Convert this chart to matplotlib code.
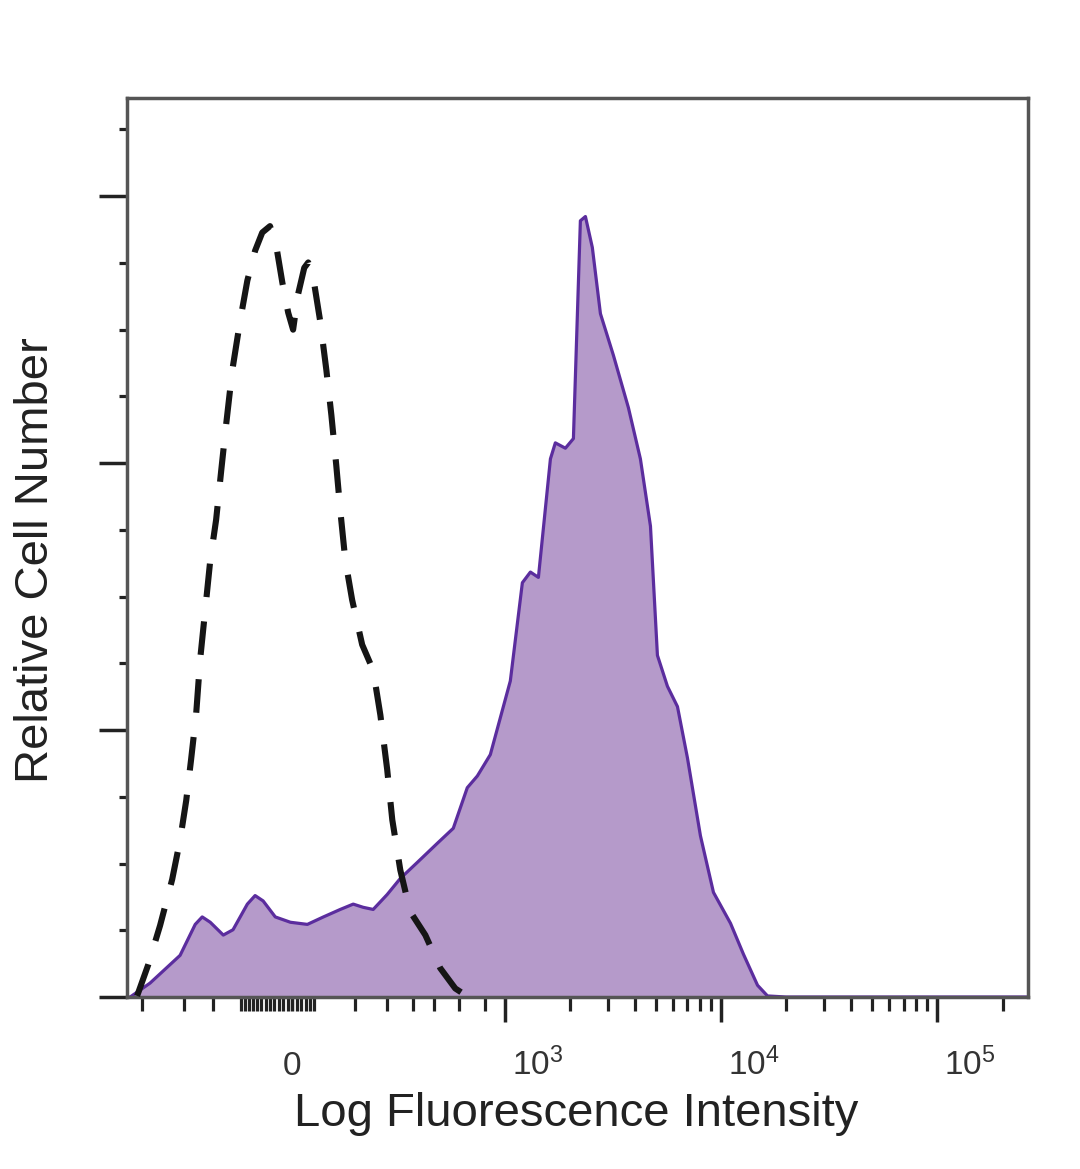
import matplotlib
matplotlib.use("Agg")
import matplotlib.pyplot as plt
from matplotlib.ticker import FixedLocator
from matplotlib.transforms import ScaledTranslation

# stained sample (filled purple histogram)
stain_x = [-590, -569, -453, -314, -257, -233, -207, -168, -141, -104, -85, -66,
           -38, -4, 34, 71, 112, 146, 174, 204, 250, 298, 369, 469, 563, 659,
           737, 850, 1057, 1204, 1313, 1431, 1628, 1716, 1911, 2082, 2243, 2367,
           2548, 2778, 3190, 3742, 4252, 4733, 5097, 5670, 6308, 7014, 8054,
           9250, 11090, 12730, 14780, 16430, 20000, 262144]
stain_y = [0, 0, 1.3, 3.9, 6.8, 7.5, 7.0, 5.8, 6.3, 8.7, 9.5, 9.0,
           7.5, 7.0, 6.8, 7.5, 8.2, 8.7, 8.4, 8.2, 9.6, 11.1, 12.6, 14.4, 15.8, 19.6,
           20.7, 22.7, 29.6, 38.8, 39.8, 39.3, 50.4, 51.9, 51.4, 52.3, 72.7, 73.1,
           70.2, 64.0, 60.1, 55.2, 50.4, 44.1, 32.0, 29.1, 27.2, 22.4, 15.1,
           9.8, 6.9, 4.0, 1.1, 0.1, 0, 0]

# isotype control (dashed)
ctrl_x = [-526, -463, -402, -347, -314, -290, -272, -254, -240, -223, -207, -189,
          -174, -160, -143, -122, -104, -85, -68, -50, -36, -22, -9, 2, 13, 27,
          36, 50, 63, 78, 90, 102, 112, 125, 143, 171, 204, 227, 250, 268, 298,
          338, 407, 485, 576, 667]
ctrl_y = [0.1, 3.0, 6.7, 11.0, 14.7, 18.4, 22.2, 26.4, 31.6, 36.3, 40.9, 44.7,
          49.3, 53.6, 58.7, 63.4, 67.1, 69.9, 71.6, 72.2, 70.4, 66.9, 64.1, 62.5, 65.8, 68.3,
          68.8, 66.7, 63.4, 58.7, 54.5, 49.8, 45.6, 40.9, 37.2, 33.0, 30.6, 26.4, 21.3, 16.6, 11.9,
          8.0, 5.8, 2.7, 0.8, 0]

xticks = [0, 1e3, 1e4, 1e5]
xtick_labels = ["0", "$10^3$", "$10^4$", "$10^5$"]
xminor = ([-500, -300, -200] + list(range(-120, 60, 10))
          + [150, 250, 350, 450, 600, 800]
          + [k * 1000 for k in range(2, 10)]
          + [k * 10000 for k in range(2, 10)] + [200000])

plt.rcParams["font.family"] = ["Liberation Sans", "DejaVu Sans"]
plt.rcParams["mathtext.fontset"] = "custom"
plt.rcParams["mathtext.rm"] = "Liberation Sans"
plt.rcParams["mathtext.it"] = "Liberation Sans"

fig = plt.figure(figsize=(10.8, 11.69), dpi=100)
ax = fig.add_axes([127 / 1080, 1 - 997 / 1169, 901 / 1080, 899 / 1169])

ax.set_xscale("asinh", linear_width=210)
ax.fill_between(stain_x, stain_y, 0, color="#b59aca", lw=0, zorder=1)
ax.plot(stain_x, stain_y, color="#5b2d9e", lw=2.3, zorder=2)
ax.plot(ctrl_x, ctrl_y, color="#151515", lw=4.4, dashes=(5.5, 4.0), zorder=3)

ax.set_xlim(-590, 262144)
ax.set_ylim(0, 84.2)

ax.xaxis.set_major_locator(FixedLocator(xticks))
ax.xaxis.set_minor_locator(FixedLocator(xminor))
ax.set_xticklabels(xtick_labels)
ax.yaxis.set_major_locator(FixedLocator([0, 25, 50, 75]))
ax.yaxis.set_minor_locator(FixedLocator([i * 6.25 for i in range(14)]))
ax.set_yticklabels([])

for s in ax.spines.values():
    s.set_color("#555555")
    s.set_linewidth(2.5)

ax.tick_params(axis="x", which="major", direction="out", length=18, width=2.5,
               color="#222222", labelsize=24, pad=38, labelcolor="#333333")
ax.tick_params(axis="x", which="minor", direction="out", length=10, width=2.3,
               color="#222222")
ax.tick_params(axis="y", which="major", direction="out", length=20, width=2.5,
               color="#222222")
ax.tick_params(axis="y", which="minor", direction="out", length=6, width=2.3,
               color="#222222")

# shorter tick at zero, labels sit on their baseline like the original
ax.xaxis.get_major_ticks()[0].tick1line.set_markersize(10)
for i, lab in enumerate(ax.get_xticklabels()):
    lab.set_verticalalignment("baseline")
    if i > 0:
        lab.set_horizontalalignment("left")
        lab.set_transform(lab.get_transform()
                          + ScaledTranslation(5 / 72, 0, fig.dpi_scale_trans))

ax.set_xlabel("Log Fluorescence Intensity", fontsize=34, color="#222222")
ax.xaxis.set_label_coords(0.498, -0.106)
ax.set_ylabel("Relative Cell Number", fontsize=34, color="#222222")
ax.yaxis.set_label_coords(-0.077, 0.486)

fig.savefig("out.png", dpi=100)
